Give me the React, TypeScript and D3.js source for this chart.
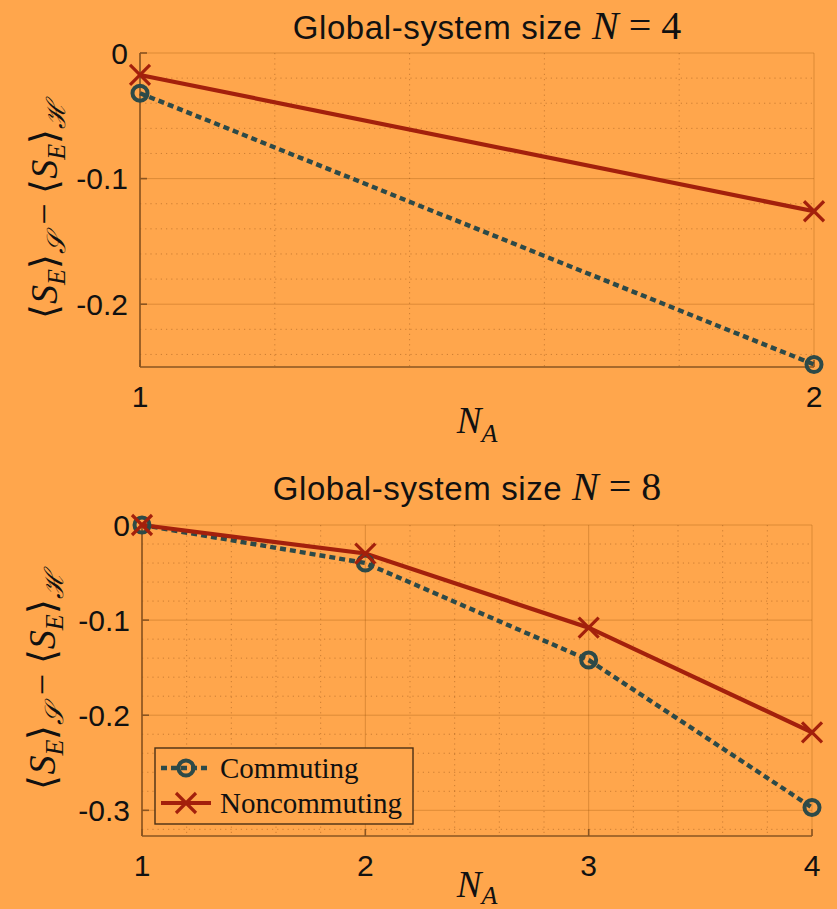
import React from "react";
import * as d3 from "d3";

// ---- Data ----
const panelTitlesN = ["4", "8"];
const n4X = [1, 2];
const n4Commuting = [-0.032, -0.248];
const n4Noncommuting = [-0.0175, -0.126];
const n8X = [1, 2, 3, 4];
const n8Commuting = [0, -0.04, -0.142, -0.297];
const n8Noncommuting = [0, -0.03, -0.108, -0.218];
const n4YTicks = [0, -0.1, -0.2];
const n8YTicks = [0, -0.1, -0.2, -0.3];
const n4XTicks = [1, 2];
const n8XTicks = [1, 2, 3, 4];
const legendLabels = ["Commuting", "Noncommuting"];

const BG = "#FFA64C";
const RED = "#A3200C";
const SLATE = "#2D4A48";
const AXIS = "#8A5420";
const MAJOR_GRID = "rgba(150,80,10,0.32)";
const MINOR_GRID = "rgba(120,60,10,0.38)";

type Panel = {
  left: number; right: number; top: number; bottom: number;
  xDomain: [number, number]; yDomain: [number, number];
  xs: number[]; comm: number[]; non: number[];
  yTicks: number[]; xTicks: number[];
  titleX: number; titleY: number; nLabel: string;
  ylabelX: number; legend: boolean; xlabelDy: number; subDy: number;
};

const panels: Panel[] = [
  {
    left: 140, right: 814, top: 53, bottom: 367,
    xDomain: [1, 2], yDomain: [-0.25, 0],
    xs: n4X, comm: n4Commuting, non: n4Noncommuting,
    yTicks: n4YTicks, xTicks: n4XTicks,
    titleX: 487, titleY: 39, nLabel: panelTitlesN[0],
    ylabelX: 45, legend: false, xlabelDy: 66, subDy: 9,
  },
  {
    left: 142, right: 812, top: 525, bottom: 836,
    xDomain: [1, 4], yDomain: [-0.327, 0],
    xs: n8X, comm: n8Commuting, non: n8Noncommuting,
    yTicks: n8YTicks, xTicks: n8XTicks,
    titleX: 467, titleY: 500, nLabel: panelTitlesN[1],
    ylabelX: 43, legend: true, xlabelDy: 61, subDy: 7,
  },
];

const SANS = "'Liberation Sans', Arial, Helvetica, sans-serif";
const SERIF = "'Liberation Serif', 'Times New Roman', serif";
const MATHSERIF = "'DejaVu Serif', 'Liberation Serif', serif";

function fmt(v: number) {
  if (v === 0) return "0";
  return String(v);
}

function XMark({ x, y, s = 10, color = RED }: { x: number; y: number; s?: number; color?: string }) {
  return (
    <g stroke={color} strokeWidth={3.2} strokeLinecap="butt">
      <line x1={x - s} y1={y - s} x2={x + s} y2={y + s} />
      <line x1={x - s} y1={y + s} x2={x + s} y2={y - s} />
    </g>
  );
}

function OMark({ x, y }: { x: number; y: number }) {
  return <circle cx={x} cy={y} r={7.5} fill="none" stroke={SLATE} strokeWidth={4} />;
}

function PanelView({ p }: { p: Panel }) {
  const x = d3.scaleLinear().domain(p.xDomain).range([p.left, p.right]);
  const y = d3.scaleLinear().domain(p.yDomain).range([p.bottom, p.top]);
  const line = d3
    .line<[number, number]>()
    .x((d) => x(d[0]))
    .y((d) => y(d[1]));
  const commPts: [number, number][] = p.xs.map((v, i) => [v, p.comm[i]]);
  const nonPts: [number, number][] = p.xs.map((v, i) => [v, p.non[i]]);

  const xMinor: number[] = [];
  for (let v = p.xDomain[0]; v <= p.xDomain[1] + 1e-9; v += 0.2) {
    const r = Math.round(v * 10) / 10;
    if (Math.abs(r - Math.round(r)) > 1e-6) xMinor.push(r);
  }
  const yMinor: number[] = [];
  for (let v = 0; v >= p.yDomain[0] - 1e-9; v -= 0.02) {
    const r = Math.round(v * 100) / 100;
    if (Math.abs(r * 10 - Math.round(r * 10)) > 1e-6) yMinor.push(r);
  }

  const cx = (p.left + p.right) / 2;
  const cy = (p.top + p.bottom) / 2;

  return (
    <g>
      {xMinor.map((v) => (
        <line key={"xm" + v} x1={x(v)} x2={x(v)} y1={p.top} y2={p.bottom}
          stroke={MINOR_GRID} strokeWidth={1} strokeDasharray="1.2,4" />
      ))}
      {yMinor.map((v) => (
        <line key={"ym" + v} x1={p.left} x2={p.right} y1={y(v)} y2={y(v)}
          stroke={MINOR_GRID} strokeWidth={1} strokeDasharray="1.2,4" />
      ))}
      {p.xTicks.map((v) => (
        <line key={"xg" + v} x1={x(v)} x2={x(v)} y1={p.top} y2={p.bottom}
          stroke={MAJOR_GRID} strokeWidth={1} />
      ))}
      {p.yTicks.map((v) => (
        <line key={"yg" + v} x1={p.left} x2={p.right} y1={y(v)} y2={y(v)}
          stroke={MAJOR_GRID} strokeWidth={1} />
      ))}
      <line x1={p.left} x2={p.left} y1={p.top} y2={p.bottom} stroke={AXIS} strokeWidth={1.6} />
      <line x1={p.left} x2={p.right} y1={p.bottom} y2={p.bottom} stroke={AXIS} strokeWidth={1.6} />
      {p.yTicks.map((v) => (
        <line key={"yt" + v} x1={p.left} x2={p.left + 7} y1={y(v)} y2={y(v)} stroke={AXIS} strokeWidth={1.6} />
      ))}
      {p.xTicks.map((v) => (
        <line key={"xt" + v} x1={x(v)} x2={x(v)} y1={p.bottom} y2={p.bottom - 7} stroke={AXIS} strokeWidth={1.6} />
      ))}
      {p.yTicks.map((v) => (
        <text key={"yl" + v} x={p.left - 12} y={y(v)} dy="0.36em" textAnchor="end"
          fontFamily={SANS} fontSize={30} fill="#111">{fmt(v)}</text>
      ))}
      {p.xTicks.map((v) => (
        <text key={"xl" + v} x={x(v)} y={p.bottom + 40} textAnchor="middle"
          fontFamily={SANS} fontSize={30} fill="#111">{String(v)}</text>
      ))}
      <path d={line(commPts) || ""} fill="none" stroke={SLATE} strokeWidth={4.4} strokeDasharray="6,4" />
      <path d={line(nonPts) || ""} fill="none" stroke={RED} strokeWidth={4.2} />
      {commPts.map((d, i) => (<OMark key={"o" + i} x={x(d[0])} y={y(d[1])} />))}
      {nonPts.map((d, i) => (<XMark key={"x" + i} x={x(d[0])} y={y(d[1])} />))}
      <text x={p.titleX} y={p.titleY} textAnchor="middle" fill="#111">
        <tspan fontFamily={SANS} fontSize={33} letterSpacing={0.6}>Global-system size </tspan>
        <tspan fontFamily={SERIF} fontStyle="italic" fontSize={40}>N</tspan>
        <tspan fontFamily={SERIF} fontSize={40}> = {p.nLabel}</tspan>
      </text>
      <text x={cx} y={p.bottom + p.xlabelDy} textAnchor="middle" fill="#111" fontFamily={SERIF}>
        <tspan fontStyle="italic" fontSize={37}>N</tspan>
        <tspan fontStyle="italic" fontSize={26} dy={p.subDy}>A</tspan>
      </text>
      <g transform={`translate(${p.ylabelX + 12},${cy}) rotate(-90)`}>
        <text x={0} y={0} textAnchor="middle" fill="#111" fontFamily={SERIF} fontSize={38}>
          <tspan>⟨</tspan>
          <tspan fontStyle="italic">S</tspan>
          <tspan fontStyle="italic" fontSize={26} dy={8}>E</tspan>
          <tspan dy={-8}>⟩</tspan>
          <tspan fontStyle="italic" fontSize={26} dy={8} fontFamily={MATHSERIF}>𝒮</tspan>
          <tspan dy={-8}> − ⟨</tspan>
          <tspan fontStyle="italic">S</tspan>
          <tspan fontStyle="italic" fontSize={26} dy={8}>E</tspan>
          <tspan dy={-8}>⟩</tspan>
          <tspan fontStyle="italic" fontSize={26} dy={8} fontFamily={MATHSERIF}>ℋ</tspan>
        </text>
      </g>
      {p.legend && <Legend left={155} top={748} width={258} height={76} />}
    </g>
  );
}

function Legend({ left, top, width, height }: { left: number; top: number; width: number; height: number }) {
  const rows = [top + 20, top + 55];
  return (
    <g>
      <rect x={left} y={top} width={width} height={height} fill={BG} stroke="#4A3015" strokeWidth={1.4} />
      <line x1={left + 6} x2={left + 56} y1={rows[0]} y2={rows[0]} stroke={SLATE} strokeWidth={4.4} strokeDasharray="6,4" />
      <OMark x={left + 31} y={rows[0]} />
      <text x={left + 65} y={rows[0]} dy="0.33em" fontFamily={SERIF} fontSize={29} fill="#111">{legendLabels[0]}</text>
      <line x1={left + 6} x2={left + 56} y1={rows[1]} y2={rows[1]} stroke={RED} strokeWidth={4.2} />
      <XMark x={left + 31} y={rows[1]} />
      <text x={left + 65} y={rows[1]} dy="0.33em" fontFamily={SERIF} fontSize={29} fill="#111">{legendLabels[1]}</text>
    </g>
  );
}

export default function App() {
  return (
    <svg width={837} height={909} style={{ position: "absolute", left: 0, top: 0, display: "block" }}>
      <rect x={0} y={0} width={837} height={909} fill={BG} />
      {panels.map((p, i) => (<PanelView key={i} p={p} />))}
    </svg>
  );
}
